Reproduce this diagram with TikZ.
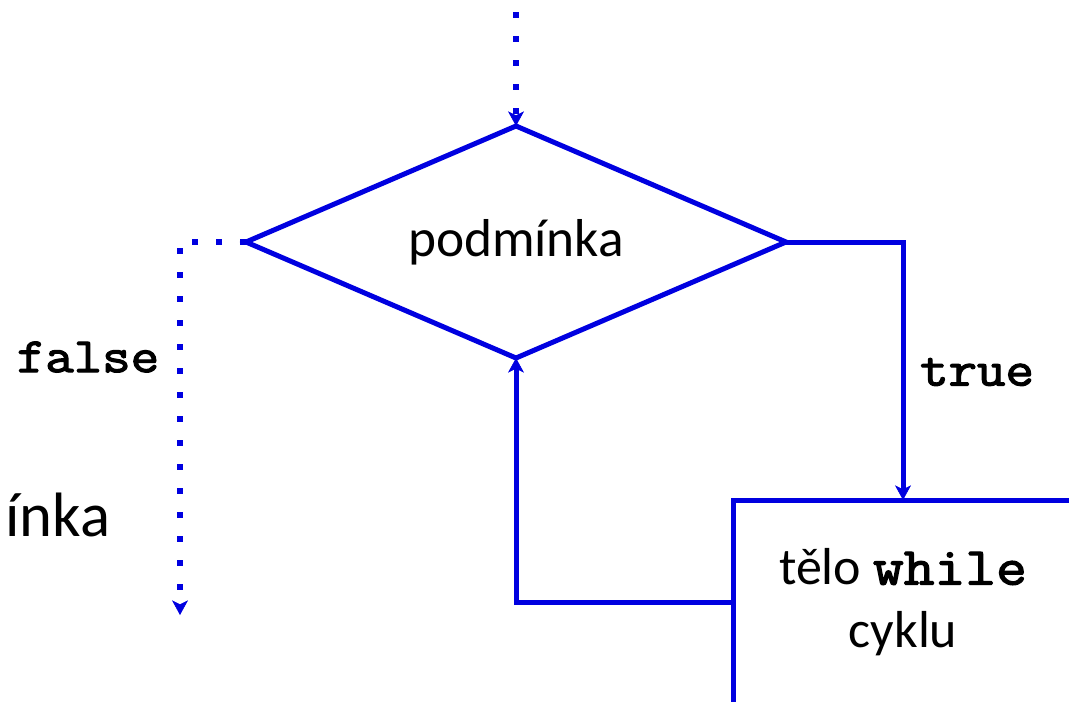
\documentclass[tikz,border=0pt]{standalone}
\usepackage{fontspec}
\setmainfont{Carlito}
\newfontfamily\codefont{Latin Modern Mono}[FakeBold=2.5, FakeStretch=1.12]
\usetikzlibrary{shapes.geometric,arrows.meta}
\definecolor{flowblue}{RGB}{0,0,224}
\newcommand{\kw}[1]{{\codefont #1}}
\tikzset{
  flowline/.style={draw=flowblue, line width=3.75pt},
  flowdots/.style={draw=flowblue, line width=4.5pt, dash pattern=on 4.5pt off 13.5pt},
  flowtip/.style={-{Stealth[length=11pt,width=12pt,inset=3pt,line width=0.5pt]}},
}

\begin{document}
\begin{tikzpicture}[x=0.75pt,y=0.75pt,yscale=-1,xscale=1,outer sep=0pt]
\useasboundingbox (0,0) rectangle (1069,701);

%Diamond: condition
\node [diamond, flowline, aspect=2.33, minimum width=405pt, minimum height=174pt, inner sep=0pt,
  font=\fontsize{40}{48}\selectfont] (cond) at (516,242) {podmínka};

%Rectangle: loop body
\node [rectangle, flowline, anchor=north west, minimum width=255pt, minimum height=153pt,
  inner sep=0pt, align=center, font=\fontsize{39}{47}\selectfont] (body) at (733,500)
  {tělo {\fontsize{40}{47}\selectfont\kw{while}}\\cyklu};

%Coordinates: free ends
\coordinate (entry) at (516,12);
\coordinate (exit) at (180,615);

%Dotted Lines
\draw [flowdots, flowtip] (entry) -- (cond.north);
\draw [flowdots, flowtip] (cond.west) -| (exit);

%Straight Lines
\draw [flowline, flowtip] (cond.east) -| (body.north);
\draw [flowline, flowtip] (body.west) -| (cond.south);

% Text Node
\node [font=\fontsize{37}{42}\selectfont] (falselbl) at (88,357) {\kw{false}};
% Text Node
\node [font=\fontsize{37}{42}\selectfont] (truelbl) at (977,372) {\kw{true}};
% Text Node
\node [font=\fontsize{47}{54}\selectfont] (cut) at (58,515) {ínka};

\end{tikzpicture}
\end{document}
